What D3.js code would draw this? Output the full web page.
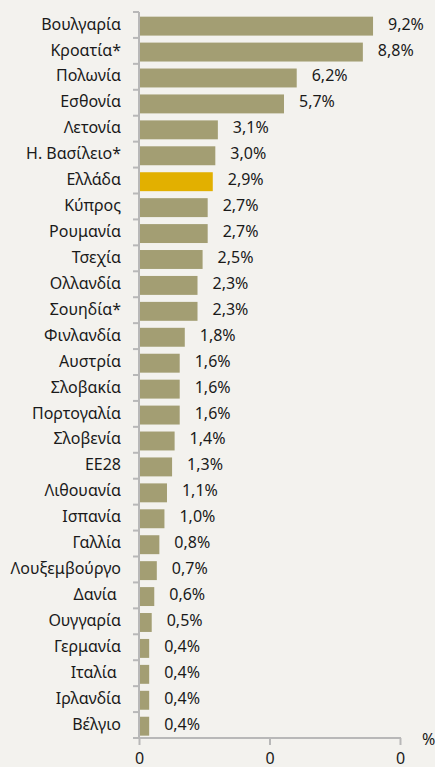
<!DOCTYPE html>
<html>
<head>
<meta charset="utf-8">
<script src="https://cdn.jsdelivr.net/npm/d3@7"></script>
<style>
  html, body { margin: 0; padding: 0; background: #f3f2ee; }
  svg { display: block; font-family: "Noto Sans", "Open Sans", sans-serif; }
</style>
</head>
<body>
<div id="chart"></div>
<script>
const countries = ["Βουλγαρία", "Κροατία*", "Πολωνία", "Εσθονία", "Λετονία", "Η. Βασίλειο*",
  "Ελλάδα", "Κύπρος", "Ρουμανία", "Τσεχία", "Ολλανδία", "Σουηδία*", "Φινλανδία", "Αυστρία",
  "Σλοβακία", "Πορτογαλία", "Σλοβενία", "ΕΕ28", "Λιθουανία", "Ισπανία", "Γαλλία",
  "Λουξεμβούργο", "Δανία ", "Ουγγαρία", "Γερμανία", "Ιταλία ", "Ιρλανδία", "Βέλγιο"];
const values = [9.2, 8.8, 6.2, 5.7, 3.1, 3.0, 2.9, 2.7, 2.7, 2.5, 2.3, 2.3, 1.8, 1.6,
  1.6, 1.6, 1.4, 1.3, 1.1, 1.0, 0.8, 0.7, 0.6, 0.5, 0.4, 0.4, 0.4, 0.4];
const highlight = "Ελλάδα";
const xTicks = [0, 5.13, 10.26];
const xTickLabels = ["0", "0", "0"];
const unitLabel = "%";

const data = countries.map((c, i) => ({ name: c, value: values[i] }));

const width = 435, height = 767;
const svg = d3.select('#chart').append('svg')
  .attr('width', width)
  .attr('height', height);

svg.append('rect').attr('width', width).attr('height', height).attr('fill', '#f3f2ee');

const x = d3.scaleLinear().domain([0, 10.26]).range([139, 400]);
const y = d3.scaleBand().domain(countries).range([12, 738]).padding(0);
const step = y.step();
const axisColor = '#b8b8b8';
const textColor = '#1a1a1a';

// bars
svg.selectAll('.bar')
  .data(data)
  .enter().append('rect')
  .attr('class', 'bar')
  .attr('x', x(0) + 1)
  .attr('y', d => y(d.name) + step * 0.18)
  .attr('width', d => x(d.value) - x(0) - 1)
  .attr('height', step * 0.73)
  .attr('fill', d => d.name === highlight ? '#e2b000' : '#a39e73');

// value labels
svg.selectAll('.val')
  .data(data)
  .enter().append('text')
  .attr('class', 'val')
  .attr('x', d => x(d.value) + 15)
  .attr('y', d => y(d.name) + 12)
  .attr('dy', '0.35em')
  .attr('font-size', 16)
  .attr('fill', textColor)
  .text(d => d.value.toFixed(1).replace('.', ',') + '%');

// category labels
svg.selectAll('.cat')
  .data(data)
  .enter().append('text')
  .attr('class', 'cat')
  .attr('x', 121)
  .attr('y', d => y(d.name) + 12)
  .attr('dy', '0.35em')
  .attr('text-anchor', 'end')
  .attr('font-size', 16)
  .attr('fill', textColor)
  .style('white-space', 'pre')
  .text(d => d.name);

// y axis line and ticks
svg.append('line')
  .attr('x1', x(0)).attr('x2', x(0))
  .attr('y1', y(countries[0])).attr('y2', 739)
  .attr('stroke', axisColor).attr('stroke-width', 2);

svg.selectAll('.ytick')
  .data(countries)
  .enter().append('line')
  .attr('class', 'ytick')
  .attr('x1', 133).attr('x2', x(0))
  .attr('y1', d => y(d)).attr('y2', d => y(d))
  .attr('stroke', axisColor).attr('stroke-width', 2);

// x axis
const xAxis = svg.append('g')
  .attr('transform', 'translate(0,738)')
  .call(d3.axisBottom(x)
    .tickValues(xTicks)
    .tickFormat((d, i) => xTickLabels[i])
    .tickSize(7)
    .tickSizeOuter(0)
    .tickPadding(8));

xAxis.select('.domain').remove();
xAxis.selectAll('line').attr('stroke', axisColor).attr('stroke-width', 2);
xAxis.selectAll('text')
  .attr('font-size', 16)
  .attr('fill', textColor)
  .style('font-family', '"Noto Sans", "Open Sans", sans-serif');

svg.append('line')
  .attr('x1', 133).attr('x2', x(10.26) + 1)
  .attr('y1', 738).attr('y2', 738)
  .attr('stroke', axisColor).attr('stroke-width', 2);

svg.append('text')
  .attr('x', 422)
  .attr('y', 745)
  .attr('font-size', 16)
  .attr('fill', textColor)
  .text(unitLabel);
</script>
</body>
</html>
